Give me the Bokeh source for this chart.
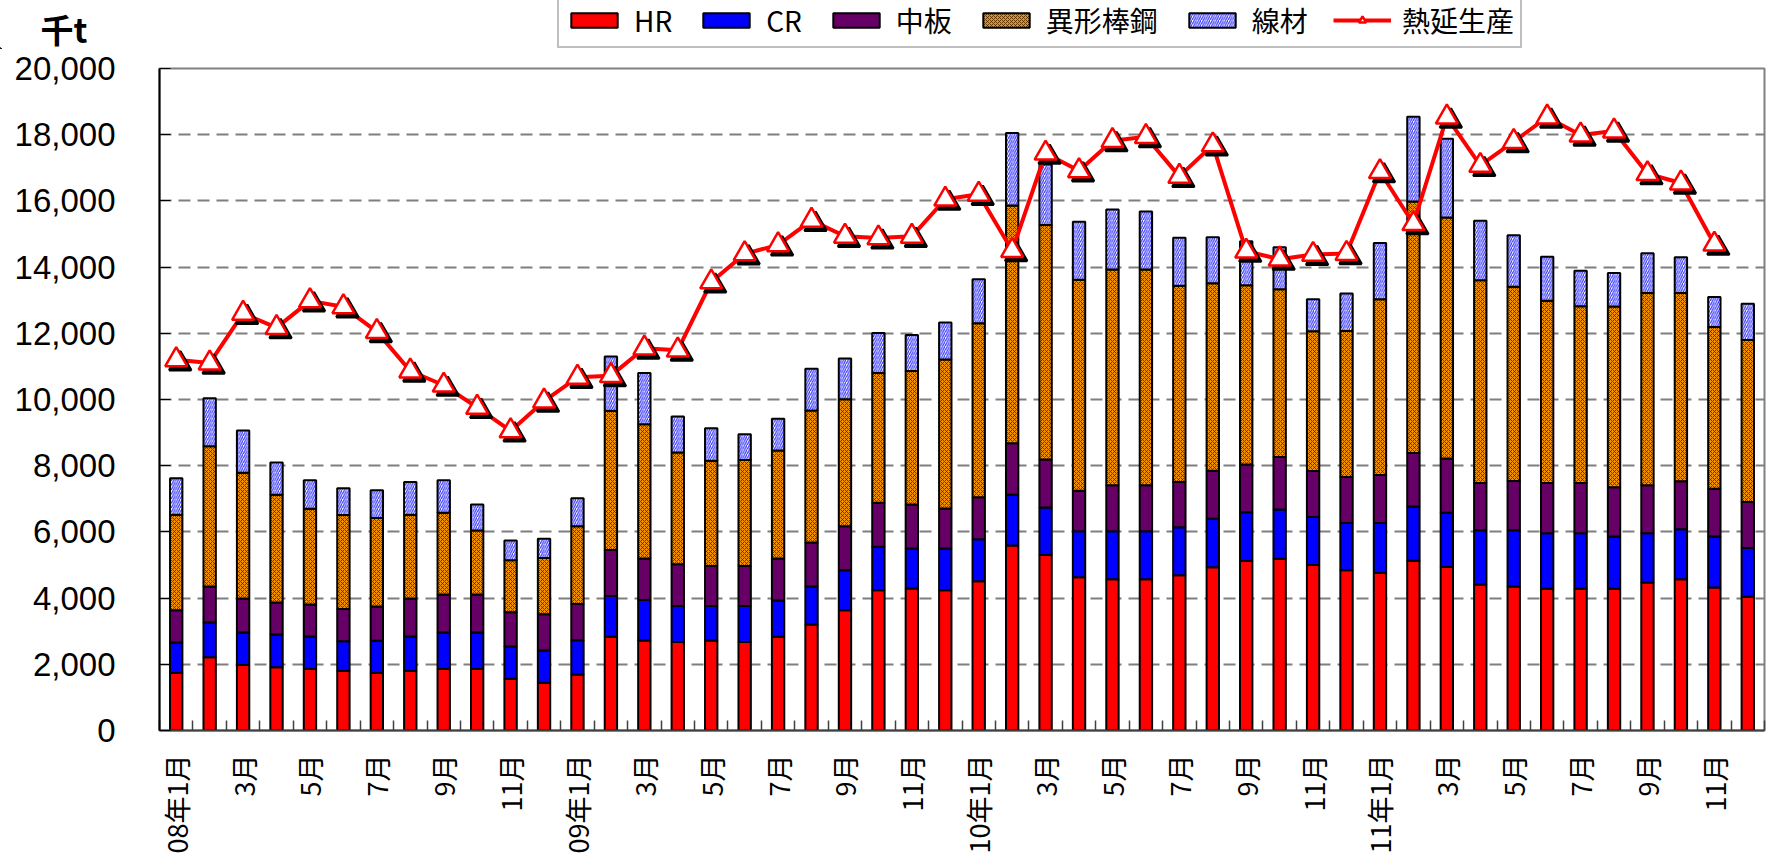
import numpy as np
from bokeh.plotting import figure
from bokeh.layouts import column
from bokeh.models import (ColumnDataSource, FixedTicker, NumeralTickFormatter,
                          Legend, LegendItem, Label, Range1d)
from bokeh.embed import file_html
from bokeh.resources import INLINE

# ---------------- data (千t) ----------------
tick_labels = ["08年1月", "3月", "5月", "7月", "9月", "11月",
               "09年1月", "3月", "5月", "7月", "9月", "11月",
               "10年1月", "3月", "5月", "7月", "9月", "11月",
               "11年1月", "3月", "5月", "7月", "9月", "11月"]

hr = [1740, 2210, 1980, 1910, 1860, 1800, 1740, 1800, 1860, 1860, 1560, 1440,
      1690, 2830, 2720, 2670, 2720, 2670, 2830, 3200, 3630, 4240, 4290, 4240,
      4510, 5590, 5300, 4630, 4570, 4570, 4690, 4930, 5120, 5190, 5000, 4840,
      4760, 5130, 4940, 4410, 4350, 4280, 4280, 4280, 4470, 4570, 4320, 4040]
cr = [920, 1050, 980, 990, 980, 900, 970, 1040, 1100, 1100, 980, 980,
      1040, 1230, 1220, 1090, 1040, 1090, 1100, 1150, 1210, 1310, 1210, 1260,
      1270, 1530, 1440, 1390, 1450, 1450, 1450, 1470, 1470, 1490, 1450, 1430,
      1510, 1640, 1640, 1640, 1700, 1680, 1680, 1580, 1490, 1510, 1540, 1470]
plate = [970, 1090, 1030, 970, 970, 970, 1040, 1150, 1150, 1150, 1030, 1090,
         1090, 1390, 1260, 1260, 1210, 1210, 1270, 1330, 1330, 1330, 1330, 1210,
         1270, 1560, 1450, 1220, 1390, 1390, 1370, 1450, 1450, 1580, 1390, 1390,
         1450, 1610, 1640, 1430, 1490, 1520, 1520, 1490, 1450, 1450, 1440, 1390]
rebar = [2890, 4240, 3800, 3250, 2890, 2840, 2670, 2530, 2470, 1930, 1570, 1700,
         2350, 4210, 4050, 3380, 3180, 3200, 3260, 3990, 3840, 3920, 4030, 4500,
         5250, 7180, 7080, 6380, 6520, 6520, 5930, 5660, 5410, 5070, 4220, 4410,
         5310, 7600, 7280, 6120, 5870, 5500, 5340, 5460, 5810, 5690, 4890, 4900]
wire = [1100, 1450, 1270, 980, 860, 810, 840, 990, 980, 790, 600, 580,
        850, 1640, 1550, 1090, 980, 780, 960, 1260, 1230, 1210, 1090, 1120,
        1330, 2190, 1830, 1750, 1810, 1750, 1450, 1390, 1330, 1270, 970, 1130,
        1700, 2560, 2380, 1800, 1550, 1330, 1070, 1010, 1200, 1080, 910, 1090]
hot_rolled = [11200, 11100, 12600, 12170, 12980, 12800, 12050, 10860, 10430, 9760, 9050, 9950,
              10670, 10720, 11550, 11490, 13550, 14400, 14670, 15410, 14930, 14880, 14930, 16050,
              16200, 14500, 17440, 16910, 17820, 17940, 16740, 17690, 14480, 14240, 14380, 14410,
              16880, 15310, 18530, 17070, 17790, 18530, 17990, 18110, 16820, 16540, 14690, np.nan]

series_names = ["HR", "CR", "中板", "異形棒鋼", "線材"]
line_name = "熱延生産"
unit_label = "千t"

# ---------------- styles ----------------
fills = ["#FF0000", "#0000FF", "#660066", "#F29100", "#FFFFFF"]
hatches = [" ", " ", " ", "x", "/"]
hatch_colors = ["black", "black", "black", "#4a2500", "#3333FF"]
hatch_scales = [4, 4, 4, 4, 4.5]
hatch_weights = [1, 1, 1, 0.8, 1.2]
TRI_SIZE = 22

# ---------------- layout constants (page px) ----------------
W = 1769
HEAD_H = 49                      # header strip (legend + unit)
TOP = 19                         # main figure border above the frame
FRAME_H = 662
MAIN_H = 863 - HEAD_H
LEFT = 159
RIGHT = 5
FRAME_W = W - LEFT - RIGHT
Y_MAX = 20000
N = len(hr)

x = np.arange(N)
src = ColumnDataSource(dict(x=x, hr=hr, cr=cr, plate=plate, rebar=rebar, wire=wire))

# ================= main chart =================
p = figure(width=W, height=MAIN_H, output_backend="svg", toolbar_location=None,
           x_range=Range1d(-0.5, N - 0.5), y_range=Range1d(0, Y_MAX),
           min_border_left=LEFT, min_border_top=TOP, min_border_right=RIGHT,
           min_border_bottom=MAIN_H - FRAME_H - TOP)
p.frame_align = False
p.background_fill_color = "white"
p.border_fill_color = "white"
p.outline_line_color = "#808080"
p.outline_line_width = 2

p.xgrid.grid_line_color = None
p.ygrid.grid_line_color = "#7f7f7f"
p.ygrid.grid_line_width = 2
p.ygrid.grid_line_dash = "12 7"

bars = p.vbar_stack(["hr", "cr", "plate", "rebar", "wire"], x="x", width=0.37, source=src,
                    fill_color=fills, line_color="black", line_width=2,
                    hatch_pattern=hatches, hatch_color=hatch_colors,
                    hatch_scale=hatch_scales, hatch_weight=hatch_weights)

hot = np.array(hot_rolled, dtype=float)
dx = 4 * (N / FRAME_W)
dy = 4 * (Y_MAX / FRAME_H)
p.line(x, hot, line_color="#FF0000", line_width=4)
p.scatter(x + dx, hot - dy, marker="triangle", size=TRI_SIZE, fill_color="black",
          line_color="black", line_width=2.5)
p.scatter(x, hot, marker="triangle", size=TRI_SIZE, fill_color="white",
          line_color="#FF0000", line_width=2.5)

xa = p.xaxis[0]
xa.ticker = FixedTicker(ticks=list(range(0, N, 2)),
                        minor_ticks=[i - 0.5 for i in range(N + 1)])
xa.major_label_overrides = {i * 2: lab for i, lab in enumerate(tick_labels)}
xa.major_label_orientation = np.pi / 2
xa.major_tick_in = 0
xa.major_tick_out = 0
xa.minor_tick_in = 10
xa.minor_tick_out = 0
xa.minor_tick_line_color = "#404040"
xa.minor_tick_line_width = 1.5
xa.axis_line_color = "#404040"
xa.axis_line_width = 2
xa.major_label_standoff = 24
xa.major_label_text_font = "Noto Sans CJK JP"
xa.major_label_text_font_size = "27px"
xa.major_label_text_color = "black"

ya = p.yaxis[0]
ya.ticker = FixedTicker(ticks=list(range(0, Y_MAX + 1, 2000)))
ya.formatter = NumeralTickFormatter(format="0,0")
ya.major_tick_in = 11
ya.major_tick_out = 0
ya.minor_tick_line_color = None
ya.major_tick_line_color = "black"
ya.axis_line_color = "black"
ya.axis_line_width = 2
ya.major_label_standoff = 44
ya.major_label_text_font = "Liberation Sans"
ya.major_label_text_font_size = "33px"
ya.major_label_text_color = "black"

# ================= header strip: unit + legend =================
h = figure(width=W, height=HEAD_H, output_backend="svg", toolbar_location=None,
           x_range=Range1d(0, W), y_range=Range1d(0, HEAD_H),
           x_axis_type=None, y_axis_type=None,
           min_border_left=0, min_border_right=0, min_border_top=0, min_border_bottom=0)
h.frame_align = False
h.outline_line_color = None
h.background_fill_color = "white"
h.border_fill_color = "white"
h.xgrid.grid_line_color = None
h.ygrid.grid_line_color = None

# legend keys: proxies kept outside the visible header range
key_src = ColumnDataSource(dict(x=[-W], top=[1], y=[1]))
key_r = []
for i in range(5):
    key_r.append(h.vbar(x="x", top="top", width=1, source=key_src, fill_color=fills[i],
                        line_color="black", line_width=2, hatch_pattern=hatches[i],
                        hatch_color=hatch_colors[i], hatch_scale=hatch_scales[i],
                        hatch_weight=hatch_weights[i]))
key_ln = h.line(x="x", y="y", source=key_src, line_color="#FF0000", line_width=4)
key_tri = h.scatter(x="x", y="y", source=key_src, marker="triangle", size=TRI_SIZE,
                    fill_color="white", line_color="#FF0000", line_width=2.5)

items = [LegendItem(label=n, renderers=[r]) for n, r in zip(series_names, key_r)]
items.append(LegendItem(label=line_name, renderers=[key_ln, key_tri]))
legend = Legend(items=items, orientation="horizontal", location=(557, 1),
                glyph_width=58, glyph_height=18, label_standoff=11, spacing=25,
                padding=6, margin=0, label_height=28,
                label_text_font="Noto Sans CJK JP", label_text_font_size="28px",
                label_text_color="black",
                border_line_color="#808080", border_line_width=2,
                background_fill_color="white", background_fill_alpha=1)
h.add_layout(legend)

h.add_layout(Label(x=40, y=HEAD_H - 4, text=unit_label, text_font="Noto Sans CJK JP",
                   text_font_size="33px", text_font_style="bold",
                   text_baseline="top", text_color="black"))

layout = column(h, p, spacing=0)
open("out.html", "w").write(file_html(layout, INLINE))
